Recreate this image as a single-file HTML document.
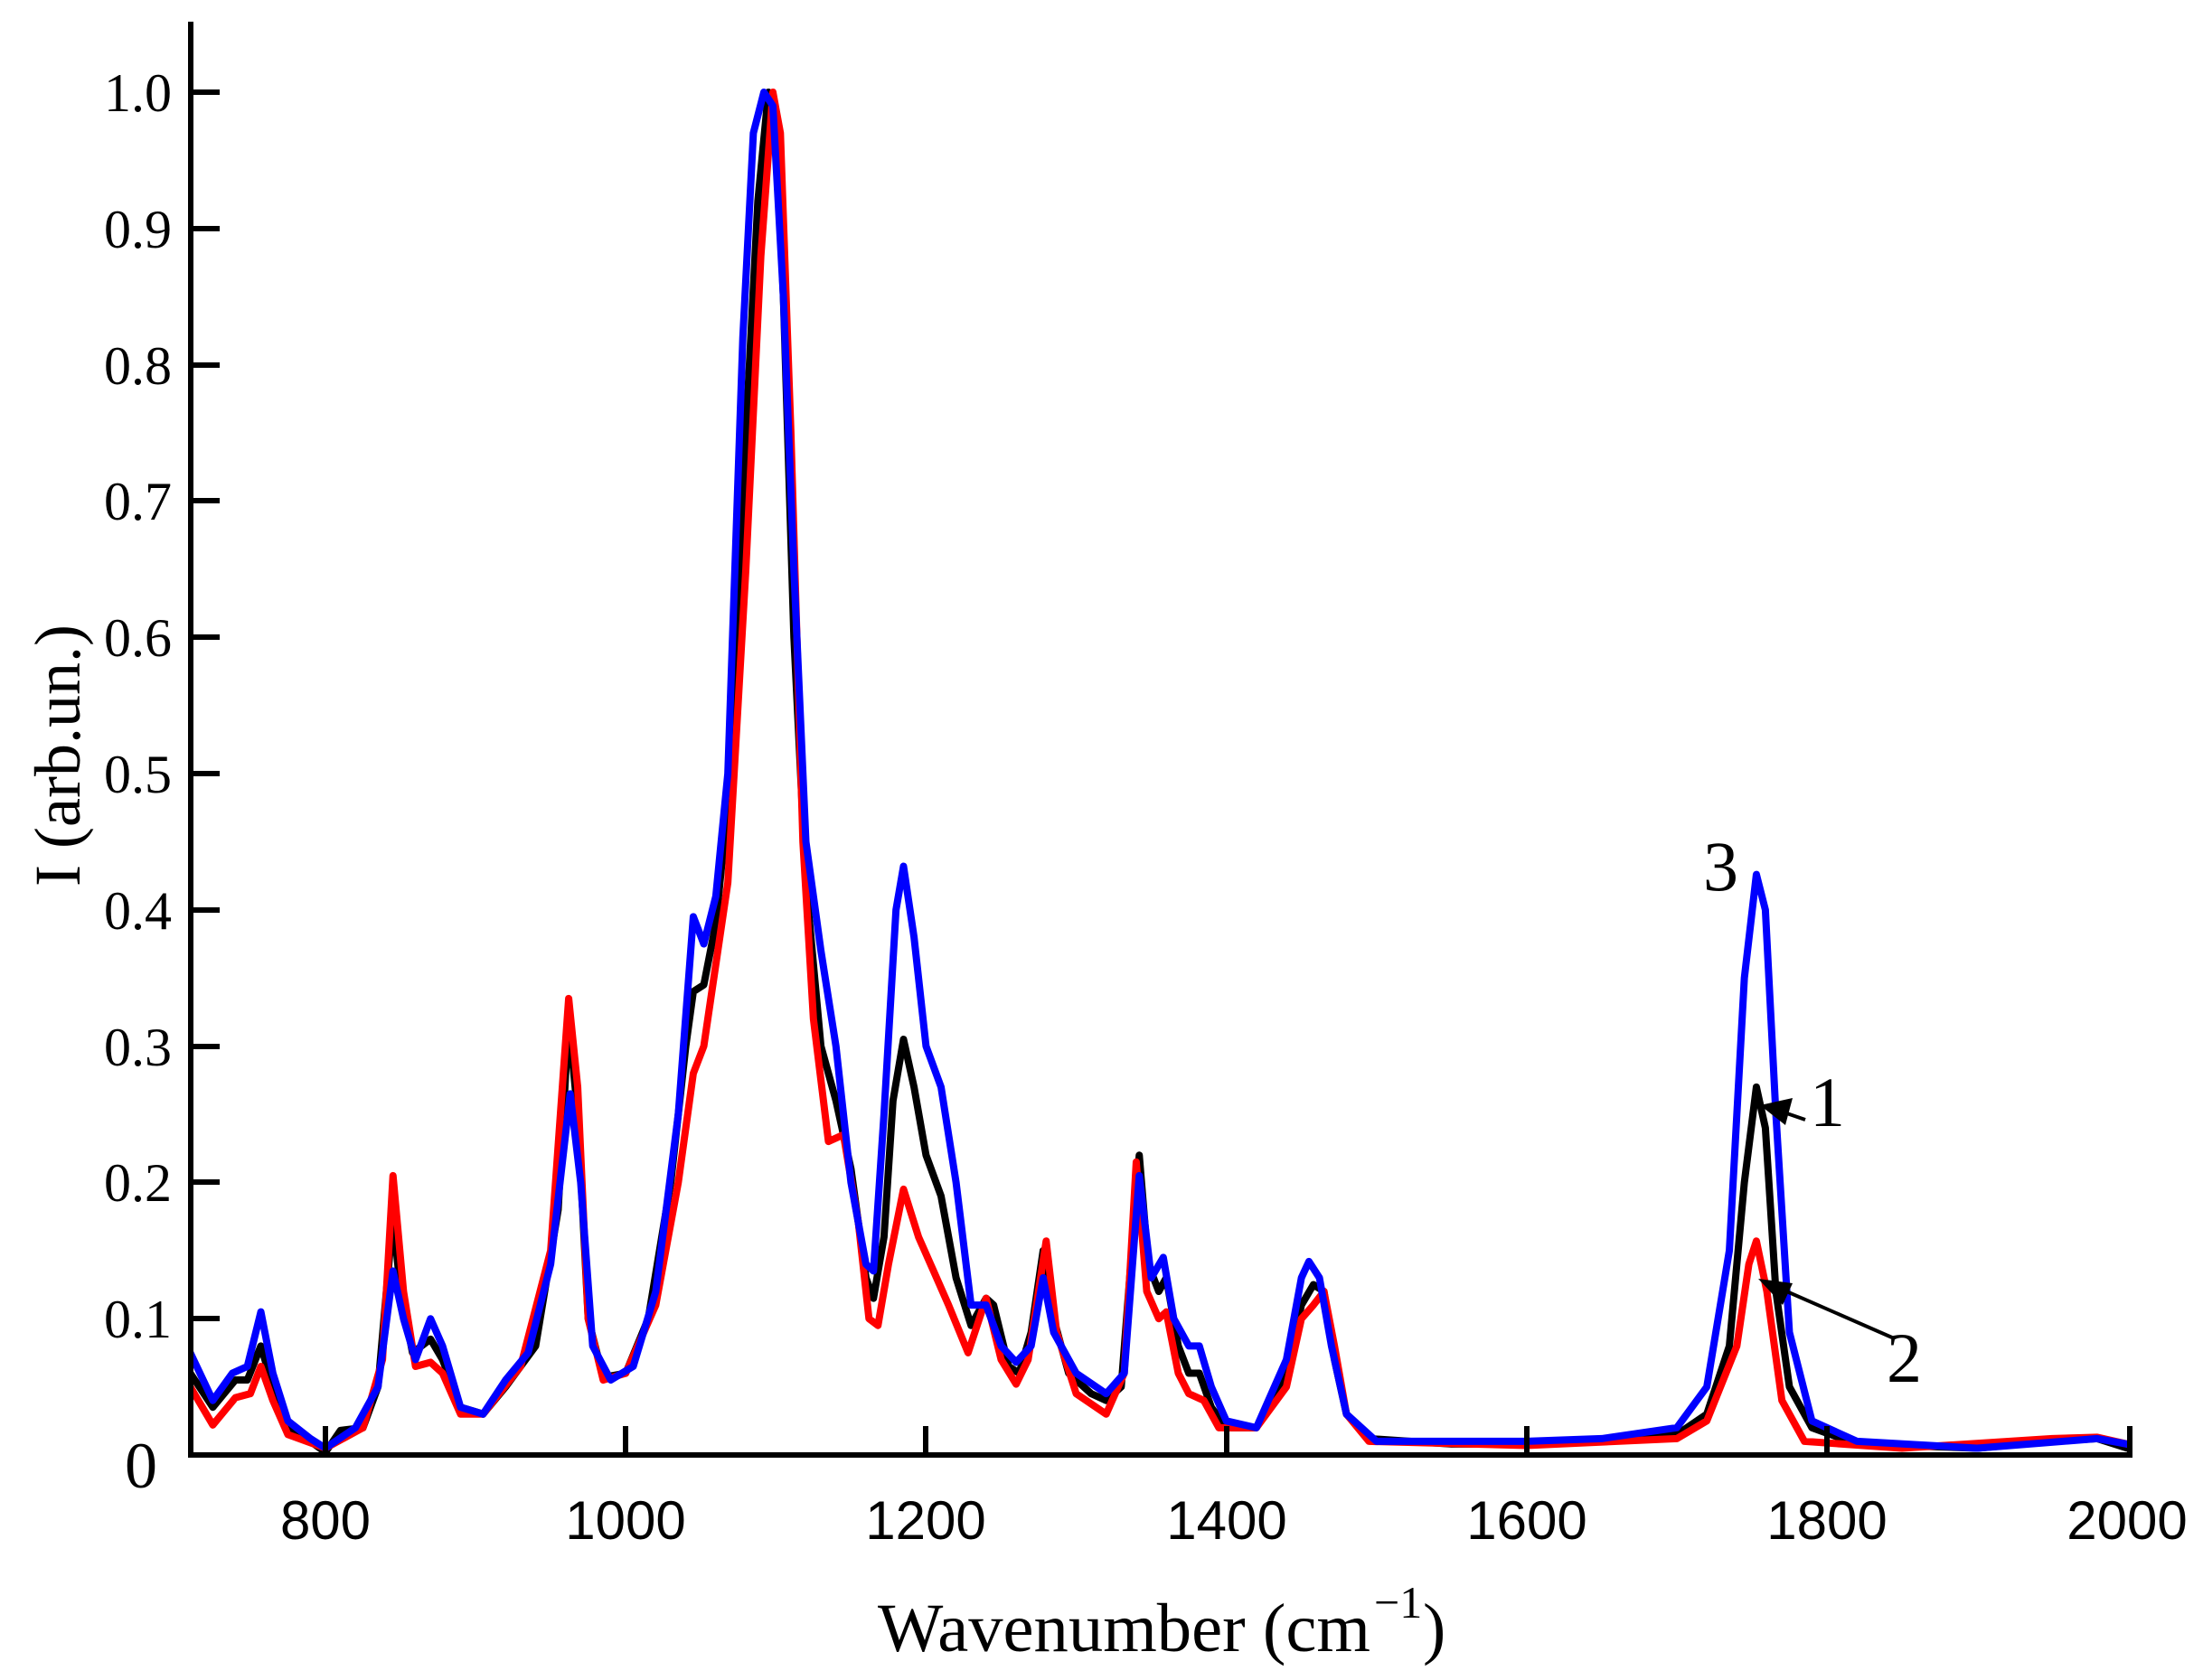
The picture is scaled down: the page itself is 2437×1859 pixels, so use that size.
<!DOCTYPE html>
<html><head><meta charset="utf-8"><style>
html,body{margin:0;padding:0;background:#fff;}
svg{display:block;}
</style></head><body>
<svg width="2437" height="1859" viewBox="0 0 2437 1859" xmlns="http://www.w3.org/2000/svg">
<rect width="2437" height="1859" fill="#fff"/>
<defs><clipPath id="c"><rect x="211" y="20" width="2145" height="1592"/></clipPath></defs>
<g clip-path="url(#c)">
<g transform="translate(-968.8 1610) scale(1.661 -1508)" fill="none" stroke-linejoin="round" stroke-linecap="round">
<polyline vector-effect="non-scaling-stroke" stroke="#000" stroke-width="8" points="705,0.062 710,0.06 725,0.035 740,0.055 748,0.055 757,0.08 765,0.05 775,0.02 790,0.01 800,0.002 810,0.018 825,0.02 835,0.05 845,0.175 850,0.12 858,0.075 870,0.085 878,0.07 890,0.035 905,0.03 920,0.05 940,0.08 955,0.18 962,0.32 968,0.25 975,0.1 985,0.057 1000,0.06 1015,0.1 1030,0.2 1040,0.3 1045,0.34 1052,0.345 1060,0.39 1070,0.5 1080,0.75 1088,0.92 1095,1.0 1100,0.98 1105,0.85 1112,0.6 1120,0.42 1130,0.3 1140,0.26 1150,0.21 1160,0.13 1165,0.115 1172,0.16 1178,0.26 1185,0.305 1192,0.27 1200,0.22 1210,0.19 1220,0.13 1230,0.095 1240,0.115 1245,0.11 1255,0.065 1262,0.06 1270,0.09 1278,0.15 1285,0.1 1295,0.06 1310,0.045 1320,0.04 1330,0.05 1342,0.22 1348,0.14 1355,0.12 1360,0.13 1368,0.08 1375,0.06 1382,0.06 1390,0.035 1400,0.02 1420,0.02 1440,0.06 1450,0.11 1458,0.125 1465,0.12 1472,0.07 1480,0.03 1495,0.012 1550,0.008 1600,0.008 1650,0.01 1700,0.015 1720,0.03 1735,0.08 1745,0.2 1753,0.27 1759,0.24 1766,0.12 1775,0.05 1790,0.02 1820,0.008 1900,0.005 1950,0.01 1980,0.012 2000,0.005"/>
<polyline vector-effect="non-scaling-stroke" stroke="#f00" stroke-width="8" points="705,0.055 710,0.05 725,0.022 740,0.042 750,0.045 757,0.065 765,0.04 775,0.015 800,0.005 825,0.02 838,0.07 845,0.205 852,0.12 860,0.065 870,0.068 878,0.06 890,0.03 905,0.03 930,0.065 950,0.15 962,0.335 968,0.27 975,0.1 985,0.055 1000,0.06 1020,0.11 1035,0.2 1045,0.28 1052,0.3 1060,0.36 1068,0.42 1080,0.65 1090,0.88 1098,1.0 1103,0.97 1110,0.75 1118,0.45 1125,0.32 1135,0.23 1145,0.235 1155,0.17 1162,0.1 1168,0.095 1175,0.14 1185,0.195 1195,0.16 1205,0.135 1215,0.11 1228,0.075 1240,0.115 1250,0.07 1260,0.052 1268,0.07 1280,0.157 1287,0.09 1300,0.045 1320,0.03 1332,0.06 1340,0.215 1347,0.12 1355,0.1 1360,0.105 1368,0.06 1375,0.045 1385,0.04 1395,0.02 1420,0.02 1440,0.05 1450,0.1 1458,0.11 1465,0.12 1472,0.08 1480,0.03 1495,0.01 1600,0.007 1700,0.012 1720,0.025 1740,0.08 1748,0.14 1753,0.157 1760,0.12 1770,0.04 1785,0.01 1850,0.005 1950,0.012 1980,0.013 2000,0.008"/>
<polyline vector-effect="non-scaling-stroke" stroke="#00f" stroke-width="8" points="705,0.08 710,0.075 725,0.04 738,0.06 748,0.065 757,0.105 765,0.06 775,0.025 790,0.012 800,0.005 820,0.02 835,0.05 845,0.135 852,0.1 860,0.07 870,0.1 878,0.08 890,0.035 905,0.03 920,0.055 935,0.075 950,0.14 963,0.265 970,0.2 978,0.08 990,0.055 1005,0.065 1020,0.12 1035,0.25 1045,0.395 1052,0.375 1060,0.41 1068,0.5 1078,0.82 1085,0.97 1092,1.0 1098,0.99 1105,0.85 1112,0.65 1120,0.45 1130,0.37 1140,0.3 1150,0.2 1160,0.14 1165,0.135 1172,0.25 1180,0.4 1185,0.432 1192,0.38 1200,0.3 1210,0.27 1220,0.2 1230,0.11 1240,0.11 1250,0.08 1260,0.068 1270,0.08 1278,0.13 1285,0.09 1300,0.06 1320,0.045 1332,0.06 1342,0.205 1350,0.13 1358,0.145 1365,0.1 1375,0.08 1382,0.08 1390,0.05 1400,0.025 1420,0.02 1440,0.07 1450,0.13 1455,0.142 1462,0.13 1470,0.08 1480,0.03 1500,0.01 1600,0.01 1650,0.012 1700,0.02 1720,0.05 1735,0.15 1745,0.35 1753,0.426 1759,0.4 1766,0.25 1775,0.09 1790,0.025 1820,0.01 1900,0.005 1980,0.012 2000,0.008"/>
</g>
</g>
<g stroke="#000" stroke-width="6" fill="none">
<polyline points="211,24 211,1610 2356,1610 2356,1578"/>
<line x1="211" y1="102" x2="243" y2="102"/><line x1="211" y1="253" x2="243" y2="253"/>
<line x1="211" y1="404" x2="243" y2="404"/><line x1="211" y1="554" x2="243" y2="554"/>
<line x1="211" y1="705" x2="243" y2="705"/><line x1="211" y1="856" x2="243" y2="856"/>
<line x1="211" y1="1007" x2="243" y2="1007"/><line x1="211" y1="1158" x2="243" y2="1158"/>
<line x1="211" y1="1308" x2="243" y2="1308"/><line x1="211" y1="1459" x2="243" y2="1459"/>
<line x1="360" y1="1578" x2="360" y2="1610"/><line x1="692" y1="1578" x2="692" y2="1610"/>
<line x1="1024" y1="1578" x2="1024" y2="1610"/><line x1="1357" y1="1578" x2="1357" y2="1610"/>
<line x1="1689" y1="1578" x2="1689" y2="1610"/><line x1="2021" y1="1578" x2="2021" y2="1610"/>
</g>
<g font-family="Liberation Serif, serif" font-size="60" text-anchor="end" fill="#000">
<text x="190" y="123">1.0</text><text x="190" y="274">0.9</text><text x="190" y="425">0.8</text>
<text x="190" y="575">0.7</text><text x="190" y="726">0.6</text><text x="190" y="877">0.5</text>
<text x="190" y="1028">0.4</text><text x="190" y="1179">0.3</text><text x="190" y="1329">0.2</text>
<text x="190" y="1480">0.1</text>
<text x="174" y="1646" font-size="72">0</text>
</g>
<g font-family="Liberation Sans, sans-serif" font-size="60" text-anchor="middle" fill="#000">
<text x="360" y="1703">800</text><text x="692" y="1703">1000</text><text x="1024" y="1703">1200</text>
<text x="1357" y="1703">1400</text><text x="1689" y="1703">1600</text><text x="2021" y="1703">1800</text>
<text x="2353" y="1703">2000</text>
</g>
<text x="971" y="1827" font-family="Liberation Serif, serif" font-size="76" fill="#000" textLength="545" lengthAdjust="spacingAndGlyphs">Wavenumber (cm</text>
<text x="1520" y="1790" font-family="Liberation Serif, serif" font-size="50" fill="#000">−1</text>
<text x="1574" y="1827" font-family="Liberation Serif, serif" font-size="76" fill="#000">)</text>
<text transform="translate(88 836) rotate(-90)" text-anchor="middle" font-family="Liberation Serif, serif" font-size="72" fill="#000">I (arb.un.)</text>
<g font-family="Liberation Serif, serif" font-size="78" fill="#000">
<text x="1884" y="985">3</text><text x="2002" y="1246">1</text><text x="2087" y="1529">2</text>
</g>
<g stroke="#000" stroke-width="4" fill="#000">
<line x1="1997" y1="1239" x2="1965" y2="1228"/>
<polygon points="1947,1223 1983,1215 1975,1245" stroke="none"/>
<line x1="2093" y1="1480" x2="1965" y2="1424"/>
<polygon points="1945,1415 1983,1420 1972,1444" stroke="none"/>
</g>
</svg>
</body></html>
